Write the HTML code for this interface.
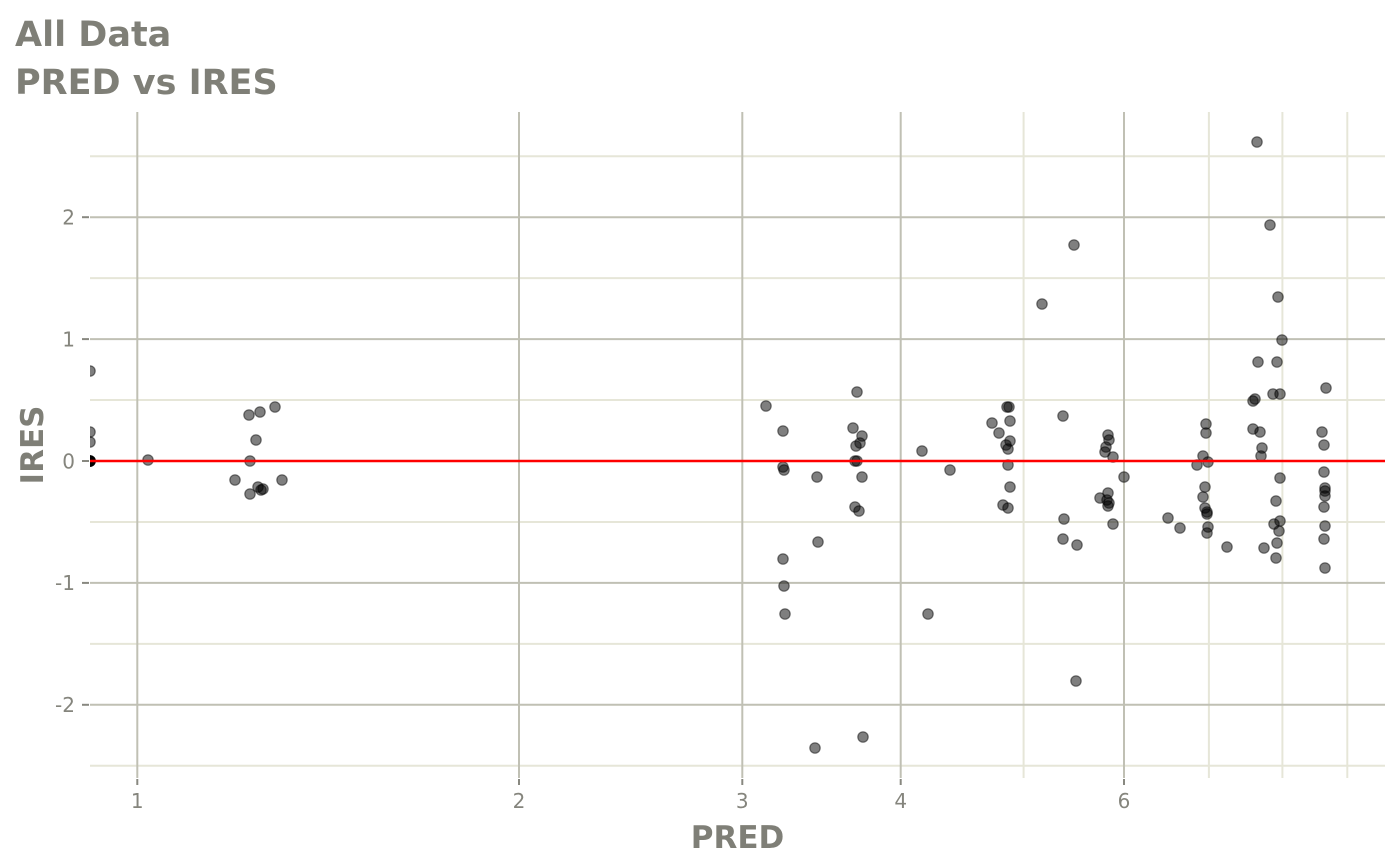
<!DOCTYPE html>
<html><head><meta charset="utf-8"><style>
html,body{margin:0;padding:0;background:#fff;}
svg{display:block;}
text{font-family:"DejaVu Sans","Liberation Sans",sans-serif;}
circle{r:5.2px;}
</style></head><body>
<svg width="1400" height="866" viewBox="0 0 1400 866" xmlns="http://www.w3.org/2000/svg">
<rect width="1400" height="866" fill="#fff"/>
<text x="15" y="46" font-size="35" font-weight="bold" fill="#7f7f77">All Data</text>
<text x="15" y="94" font-size="35" font-weight="bold" fill="#7f7f77">PRED vs IRES</text>
<g stroke="#e6e6d8" stroke-width="2">
<line x1="90" x2="1385" y1="156.2" y2="156.2"/>
<line x1="90" x2="1385" y1="278.1" y2="278.1"/>
<line x1="90" x2="1385" y1="400" y2="400"/>
<line x1="90" x2="1385" y1="522" y2="522"/>
<line x1="90" x2="1385" y1="643.9" y2="643.9"/>
<line x1="90" x2="1385" y1="765.8" y2="765.8"/>
<line x1="1023.6" x2="1023.6" y1="112" y2="778"/>
<line x1="1208.9" x2="1208.9" y1="112" y2="778"/>
<line x1="1282.4" x2="1282.4" y1="112" y2="778"/>
<line x1="1347.3" x2="1347.3" y1="112" y2="778"/>
</g>
<g stroke="#c0c0b4" stroke-width="2">
<line x1="90" x2="1385" y1="217.2" y2="217.2"/>
<line x1="90" x2="1385" y1="339.1" y2="339.1"/>
<line x1="90" x2="1385" y1="461" y2="461"/>
<line x1="90" x2="1385" y1="582.9" y2="582.9"/>
<line x1="90" x2="1385" y1="704.8" y2="704.8"/>
<line x1="137.3" x2="137.3" y1="112" y2="778"/>
<line x1="519" x2="519" y1="112" y2="778"/>
<line x1="742.3" x2="742.3" y1="112" y2="778"/>
<line x1="900.7" x2="900.7" y1="112" y2="778"/>
<line x1="1124" x2="1124" y1="112" y2="778"/>
</g>
<g stroke="#888880" stroke-width="2">
<line x1="82" x2="89" y1="217.2" y2="217.2"/>
<line x1="82" x2="89" y1="339.1" y2="339.1"/>
<line x1="82" x2="89" y1="461" y2="461"/>
<line x1="82" x2="89" y1="582.9" y2="582.9"/>
<line x1="82" x2="89" y1="704.8" y2="704.8"/>
<line x1="137.3" x2="137.3" y1="779" y2="785"/>
<line x1="519" x2="519" y1="779" y2="785"/>
<line x1="742.3" x2="742.3" y1="779" y2="785"/>
<line x1="900.7" x2="900.7" y1="779" y2="785"/>
<line x1="1124" x2="1124" y1="779" y2="785"/>
</g>
<g font-size="20" fill="#85857d" text-anchor="end">
<text x="75" y="224.5">2</text>
<text x="75" y="346.4">1</text>
<text x="75" y="468.3">0</text>
<text x="75" y="590.2">-1</text>
<text x="75" y="712.1">-2</text>
</g>
<g font-size="20" fill="#85857d" text-anchor="middle">
<text x="137.3" y="808">1</text>
<text x="519" y="808">2</text>
<text x="742.3" y="808">3</text>
<text x="900.7" y="808">4</text>
<text x="1124" y="808">6</text>
</g>
<text x="737.5" y="848" font-size="31" font-weight="bold" fill="#7f7f77" text-anchor="middle">PRED</text>
<text transform="translate(43,445) rotate(-90)" x="0" y="0" font-size="31" font-weight="bold" fill="#7f7f77" text-anchor="middle">IRES</text>
<defs><clipPath id="p"><rect x="90" y="112" width="1295" height="666"/></clipPath></defs>
<g clip-path="url(#p)" fill="rgba(0,0,0,0.5)" stroke="rgba(0,0,0,0.5)" stroke-width="1.2">
<circle cx="90" cy="371" r="5.2"/><circle cx="90" cy="432" r="5.2"/><circle cx="90" cy="442" r="5.2"/>
<circle cx="90" cy="461" r="5.2"/><circle cx="90" cy="461" r="5.2"/><circle cx="90" cy="461" r="5.2"/><circle cx="90" cy="461" r="5.2"/><circle cx="90" cy="461" r="5.2"/><circle cx="90" cy="461" r="5.2"/>
<circle cx="148" cy="460" r="5.2"/>
<circle cx="249" cy="415" r="5.2"/><circle cx="260" cy="412" r="5.2"/><circle cx="275" cy="407" r="5.2"/><circle cx="256" cy="440" r="5.2"/><circle cx="250" cy="461" r="5.2"/><circle cx="235" cy="480" r="5.2"/><circle cx="250" cy="494" r="5.2"/><circle cx="258" cy="487" r="5.2"/><circle cx="261" cy="490" r="5.2"/><circle cx="263" cy="489" r="5.2"/><circle cx="282" cy="480" r="5.2"/>
<circle cx="766" cy="406" r="5.2"/><circle cx="783" cy="431" r="5.2"/><circle cx="783" cy="467" r="5.2"/><circle cx="784" cy="470" r="5.2"/><circle cx="817" cy="477" r="5.2"/><circle cx="857" cy="392" r="5.2"/><circle cx="853" cy="428" r="5.2"/><circle cx="862" cy="436" r="5.2"/><circle cx="860" cy="443" r="5.2"/><circle cx="856" cy="446" r="5.2"/><circle cx="857" cy="461" r="5.2"/><circle cx="855" cy="461" r="5.2"/><circle cx="862" cy="477" r="5.2"/><circle cx="855" cy="507" r="5.2"/><circle cx="859" cy="511" r="5.2"/><circle cx="818" cy="542" r="5.2"/><circle cx="783" cy="559" r="5.2"/><circle cx="784" cy="586" r="5.2"/><circle cx="785" cy="614" r="5.2"/><circle cx="815" cy="748" r="5.2"/><circle cx="863" cy="737" r="5.2"/>
<circle cx="922" cy="451" r="5.2"/><circle cx="950" cy="470" r="5.2"/><circle cx="928" cy="614" r="5.2"/>
<circle cx="1007" cy="407" r="5.2"/><circle cx="1009" cy="407" r="5.2"/><circle cx="992" cy="423" r="5.2"/><circle cx="1010" cy="421" r="5.2"/><circle cx="999" cy="433" r="5.2"/><circle cx="1010" cy="441" r="5.2"/><circle cx="1006" cy="445" r="5.2"/><circle cx="1008" cy="449" r="5.2"/><circle cx="1008" cy="465" r="5.2"/><circle cx="1010" cy="487" r="5.2"/><circle cx="1003" cy="505" r="5.2"/><circle cx="1008" cy="508" r="5.2"/>
<circle cx="1042" cy="304" r="5.2"/><circle cx="1063" cy="416" r="5.2"/><circle cx="1074" cy="245" r="5.2"/><circle cx="1076" cy="681" r="5.2"/>
<circle cx="1108" cy="435" r="5.2"/><circle cx="1109" cy="440" r="5.2"/><circle cx="1106" cy="447" r="5.2"/><circle cx="1105" cy="452" r="5.2"/><circle cx="1113" cy="457" r="5.2"/><circle cx="1124" cy="477" r="5.2"/><circle cx="1100" cy="498" r="5.2"/><circle cx="1108" cy="493" r="5.2"/><circle cx="1107" cy="500" r="5.2"/><circle cx="1108" cy="506" r="5.2"/><circle cx="1109" cy="503" r="5.2"/><circle cx="1064" cy="519" r="5.2"/><circle cx="1113" cy="524" r="5.2"/><circle cx="1063" cy="539" r="5.2"/><circle cx="1077" cy="545" r="5.2"/><circle cx="1168" cy="518" r="5.2"/><circle cx="1180" cy="528" r="5.2"/>
<circle cx="1206" cy="424" r="5.2"/><circle cx="1206" cy="433" r="5.2"/><circle cx="1203" cy="456" r="5.2"/><circle cx="1197" cy="465" r="5.2"/><circle cx="1208" cy="462" r="5.2"/><circle cx="1205" cy="487" r="5.2"/><circle cx="1203" cy="497" r="5.2"/><circle cx="1205" cy="508" r="5.2"/><circle cx="1207" cy="512" r="5.2"/><circle cx="1207" cy="514" r="5.2"/><circle cx="1208" cy="527" r="5.2"/><circle cx="1207" cy="533" r="5.2"/><circle cx="1227" cy="547" r="5.2"/>
<circle cx="1257" cy="142" r="5.2"/><circle cx="1270" cy="225" r="5.2"/><circle cx="1278" cy="297" r="5.2"/><circle cx="1282" cy="340" r="5.2"/><circle cx="1258" cy="362" r="5.2"/><circle cx="1277" cy="362" r="5.2"/><circle cx="1326" cy="388" r="5.2"/><circle cx="1273" cy="394" r="5.2"/><circle cx="1280" cy="394" r="5.2"/><circle cx="1253" cy="401" r="5.2"/><circle cx="1255" cy="399" r="5.2"/><circle cx="1253" cy="429" r="5.2"/><circle cx="1260" cy="432" r="5.2"/><circle cx="1262" cy="448" r="5.2"/><circle cx="1261" cy="456" r="5.2"/><circle cx="1280" cy="478" r="5.2"/><circle cx="1276" cy="501" r="5.2"/><circle cx="1280" cy="521" r="5.2"/><circle cx="1274" cy="524" r="5.2"/><circle cx="1279" cy="531" r="5.2"/><circle cx="1264" cy="548" r="5.2"/><circle cx="1277" cy="543" r="5.2"/><circle cx="1276" cy="558" r="5.2"/>
<circle cx="1322" cy="432" r="5.2"/><circle cx="1324" cy="445" r="5.2"/><circle cx="1324" cy="472" r="5.2"/><circle cx="1325" cy="488" r="5.2"/><circle cx="1325" cy="491" r="5.2"/><circle cx="1325" cy="496" r="5.2"/><circle cx="1324" cy="507" r="5.2"/><circle cx="1325" cy="526" r="5.2"/><circle cx="1324" cy="539" r="5.2"/><circle cx="1325" cy="568" r="5.2"/>
</g>
<line x1="90" x2="1385" y1="461" y2="461" stroke="#ff0000" stroke-width="2.4"/>
</svg>
</body></html>
